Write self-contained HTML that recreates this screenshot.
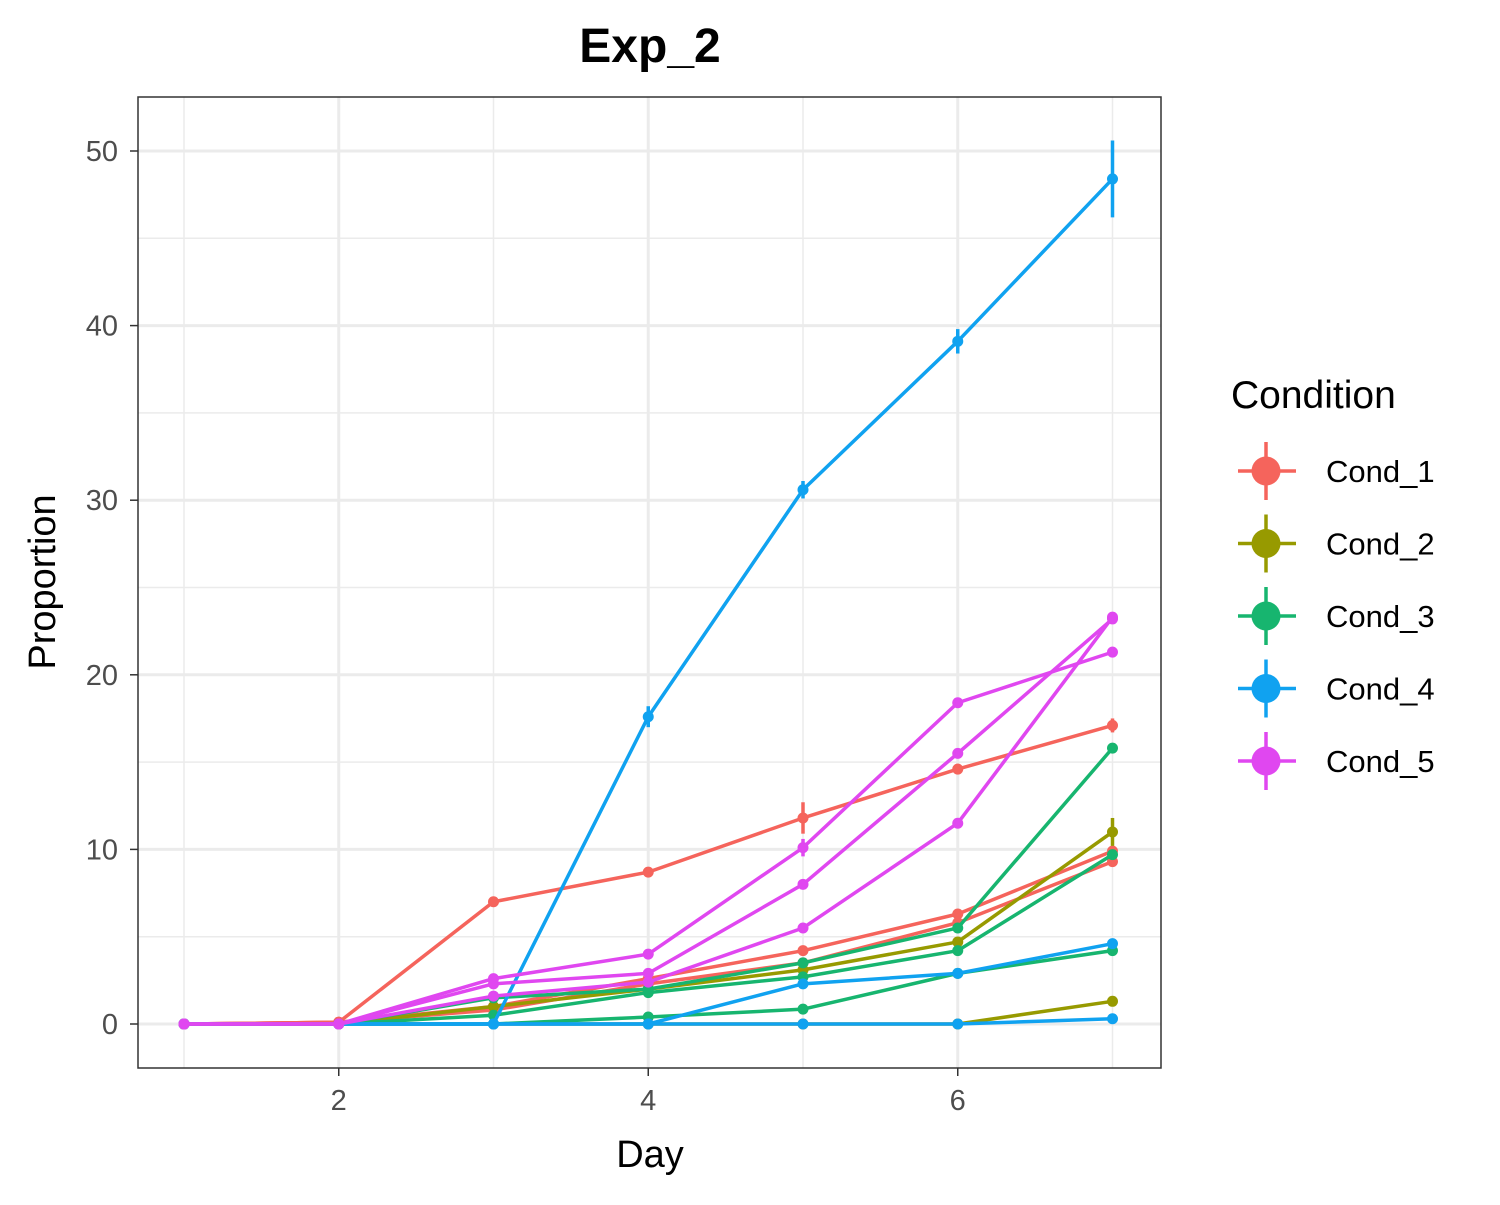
<!DOCTYPE html>
<html><head><meta charset="utf-8"><style>
body{margin:0;background:#fff;}
svg text{font-family:"Liberation Sans",Arial,sans-serif;}
</style></head><body>
<svg id="chart" width="1500" height="1200" xmlns="http://www.w3.org/2000/svg">
<rect width="1500" height="1200" fill="#fff"/>
<text x="650" y="62" text-anchor="middle" font-size="48" font-weight="bold">Exp_2</text>
<g id="grid"></g>
<g id="series"></g>
<rect x="138" y="97" width="1023" height="971" fill="none" stroke="#333" stroke-width="1.5"/>
<g id="axes"></g>
<text x="650" y="1167" text-anchor="middle" font-size="38">Day</text>
<text transform="translate(55,582) rotate(-90)" text-anchor="middle" font-size="38">Proportion</text>
<g id="legend">
<text x="1231" y="408" font-size="39">Condition</text>
</g>
</svg>
<script>
const days = [1,2,3,4,5,6,7];
const conditions = ["Cond_1","Cond_2","Cond_3","Cond_4","Cond_5"];
const colors = ["#F5645C","#979A00","#17B56F","#10A2F0","#E047F0"];
const xTicks = [2,4,6];
const yTicks = [0,10,20,30,40,50];
const lineCond = [0,0,0,1,1,2,2,2,3,3,3,4,4,4];
const v0 = [0,0.1,7.0,8.7,11.8,14.6,17.1];
const v1 = [0,0.1,1.0,2.6,4.2,6.3,9.9];
const v2 = [0,0.1,0.8,2.3,3.5,5.8,9.3];
const v3 = [0,0,1.0,2.0,3.1,4.7,11.0];
const v4 = [0,0,0,0,0,0,1.3];
const v5 = [0,0,1.5,2.0,3.5,5.5,15.8];
const v6 = [0,0,0.5,1.8,2.7,4.2,9.7];
const v7 = [0,0,0,0.4,0.85,2.9,4.2];
const v8 = [0,0,0,17.6,30.6,39.1,48.4];
const v9 = [0,0,0,0,2.3,2.9,4.6];
const v10 = [0,0,0,0,0,0,0.3];
const v11 = [0,0,2.6,4.0,10.1,18.4,21.3];
const v12 = [0,0,2.3,2.9,8.0,15.5,23.2];
const v13 = [0,0,1.6,2.4,5.5,11.5,23.3];
const e0 = [0,0,0.2,0.2,0.9,0.3,0.4];
const e8 = [0,0,0,0.6,0.5,0.7,2.2];
const e3 = [0,0,0,0,0,0,0.8];
const e11 = [0,0,0,0,0.5,0.2,0.3];
const values = [v0,v1,v2,v3,v4,v5,v6,v7,v8,v9,v10,v11,v12,v13];
const errs = {0:e0,3:e3,8:e8,11:e11};

const NS="http://www.w3.org/2000/svg";
const X = d => 184 + (d-1)*154.75;
const Y = v => 1024 - v*17.46;
function mk(tag, attrs, parent){const e=document.createElementNS(NS,tag);for(const k in attrs)e.setAttribute(k,attrs[k]);parent.appendChild(e);return e;}
const grid=document.getElementById('grid');
mk('rect',{x:138,y:97,width:1023,height:971,fill:'#fff'},grid);
for(let v=5;v<=50;v+=10){const l=mk('line',{x1:138,x2:1161,y1:Y(v),y2:Y(v),stroke:'#ebebeb','stroke-width':1.5},grid);

}
for(let d=1;d<=7;d+=2){const l=mk('line',{x1:X(d),x2:X(d),y1:97,y2:1068,stroke:'#ebebeb','stroke-width':1.5},grid);

}
const axes=document.getElementById('axes');
yTicks.forEach(v=>{const l=mk('line',{x1:138,x2:1161,y1:Y(v),y2:Y(v),stroke:'#ebebeb','stroke-width':3},grid);


mk('line',{x1:130,x2:138,y1:Y(v),y2:Y(v),stroke:'#333','stroke-width':1.5},axes);
const t=mk('text',{x:118,y:Y(v)+10,'text-anchor':'end','font-size':29,fill:'#4d4d4d'},axes);t.textContent=v;

});
xTicks.forEach(d=>{const l=mk('line',{x1:X(d),x2:X(d),y1:97,y2:1068,stroke:'#ebebeb','stroke-width':3},grid);


mk('line',{x1:X(d),x2:X(d),y1:1068,y2:1076,stroke:'#333','stroke-width':1.5},axes);
const t=mk('text',{x:X(d),y:1110,'text-anchor':'middle','font-size':29,fill:'#4d4d4d'},axes);t.textContent=d;

});
const sg=document.getElementById('series');
values.forEach((vals,i)=>{const c=colors[lineCond[i]];
const g=mk('g',{},sg);


mk('polyline',{points:vals.map((v,j)=>X(days[j])+','+Y(v)).join(' '),fill:'none',stroke:c,'stroke-width':3.5,'stroke-linejoin':'round'},g);
const e=errs[i];
vals.forEach((v,j)=>{if(e&&e[j]>0){mk('line',{x1:X(days[j]),x2:X(days[j]),y1:Y(v-e[j]),y2:Y(v+e[j]),stroke:c,'stroke-width':3.5},g);}
const p=mk('circle',{cx:X(days[j]),cy:Y(v),r:5.5,fill:c},g);

});});
const lg=document.getElementById('legend');
conditions.forEach((n,i)=>{const cy=471+i*72.5;const c=colors[i];
const g=mk('g',{},lg);


mk('line',{x1:1238,x2:1296,y1:cy,y2:cy,stroke:c,'stroke-width':3.5},g);
mk('line',{x1:1266,x2:1266,y1:cy-29,y2:cy+29,stroke:c,'stroke-width':3.5},g);
mk('circle',{cx:1266,cy:cy,r:14.5,fill:c},g);
const t=mk('text',{x:1326,y:cy+11,'font-size':31},g);t.textContent=n;});
</script>
</body></html>
